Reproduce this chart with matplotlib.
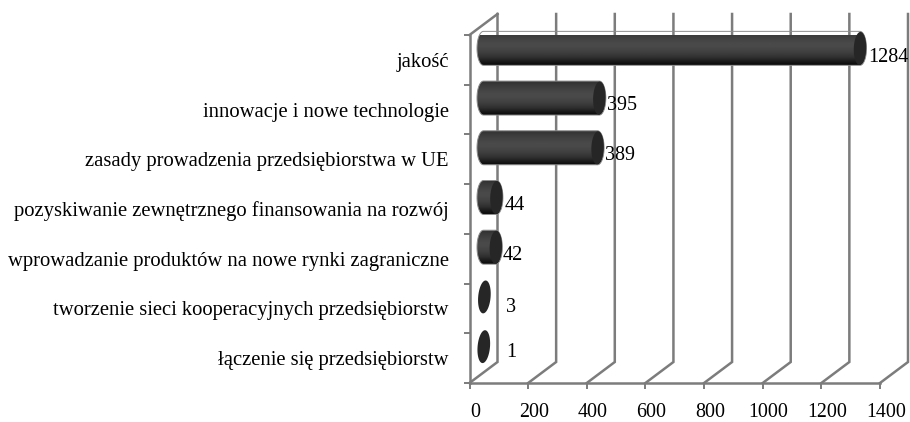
#Horizontal cylinder bar chart with a fake 3D frame
import numpy as np
import matplotlib
matplotlib.use('Agg')
import matplotlib.pyplot as plt
from matplotlib.path import Path
from matplotlib.patches import PathPatch, Polygon
from matplotlib.transforms import ScaledTranslation

plt.rcParams['font.family'] = ['Liberation Serif', 'DejaVu Serif']

#Input data
categories = ['jakość',
              'innowacje i nowe technologie',
              'zasady prowadzenia przedsiębiorstwa w UE',
              'pozyskiwanie zewnętrznego finansowania na rozwój',
              'wprowadzanie produktów na nowe rynki zagraniczne',
              'tworzenie sieci kooperacyjnych przedsiębiorstw',
              'łączenie się przedsiębiorstw']
values = [1284, 395, 389, 44, 42, 3, 1]
xticks = [0, 200, 400, 600, 800, 1000, 1200, 1400]

W, H = 910, 422
fig = plt.figure(figsize=(W/100, H/100), dpi=100)
ax = fig.add_axes([469.5/W, (H-383)/H, 410.5/W, 348/H])
ax.set_xlim(0, 1400)
ax.set_ylim(6.5, -0.5)
ax.patch.set_visible(False)

grid_col = '#7c7c7c'
px_x = 1400/410.5              #data units per pixel
px_y = 7/348
dep_x = 28*px_x                #depth of the frame
dep_y = 21*px_y

#Frame
for x in xticks:
    ax.plot([x, x+dep_x, x+dep_x], [6.5, 6.5-dep_y, -0.5-dep_y], color=grid_col,
            lw=1.8, clip_on=False, zorder=1, solid_joinstyle='miter')
ax.plot([0, dep_x], [-0.5, -0.5-dep_y], color=grid_col, lw=1.8, clip_on=False, zorder=1)

#Cylinders
def cyl(ax, val, y):
    cx0 = dep_x/2
    cx1 = val + dep_x/2
    cy = y - dep_y/2 - 1*px_y
    rx = 6.5*px_x
    ry = 17*px_y
    t = np.linspace(np.pi/2, 3*np.pi/2, 30)
    left = np.c_[cx0 + rx*np.cos(t), cy + ry*np.sin(t)]
    right = np.c_[cx1 + rx*np.cos(t+np.pi), cy + ry*np.sin(t+np.pi)]
    pts = np.vstack([left, right, left[:1]])
    if val > 20:
        clip = PathPatch(Path(pts), fc='none', ec='none', transform=ax.transData)
        ax.add_patch(clip)
        shade = np.array([.20, .23, .25, .27, .29, .29, .27, .25, .22, .18, .12, .06]).reshape(-1, 1)
        im = ax.imshow(shade, cmap='gray', vmin=0, vmax=1, aspect='auto', zorder=3,
                       extent=[cx0-rx, cx1+rx, cy+ry, cy-ry], interpolation='bilinear')
        im.set_clip_path(clip)
        ax.add_patch(PathPatch(Path(pts), fc='none', ec='#8c8c8c', lw=0.7, zorder=4, clip_on=False))
    #end cap, only the small ones lean visibly to the right
    a = np.linspace(0, 2*np.pi, 60)
    ex = 6.2*np.cos(a)
    ey = 16.5*np.sin(a)
    tilt = np.radians(5 if val < 20 else 2)
    cap_x = cx1 + (ex*np.cos(tilt) - ey*np.sin(tilt))*px_x
    cap_y = cy + (ex*np.sin(tilt) + ey*np.cos(tilt))*px_y
    ax.add_patch(Polygon(np.c_[cap_x, cap_y], fc='#262626', ec='none', zorder=5, clip_on=False))

for i, v in enumerate(values):
    cyl(ax, v, i)
ax.set_xlim(0, 1400)
ax.set_ylim(6.5, -0.5)

#Value labels
lab_y = [57, 105, 155, 206, 255, 308, 353]
lab_x = [868, 607, 605, 505, 503, 506, 506]
lab_size = [14.5, 14.5, 14.5, 14.5, 14.5, 14.5, 14.5]
for i, v in enumerate(values):
    ax.annotate(str(v), (v, i), xycoords='data', textcoords='offset pixels',
                xytext=(lab_x[i]-469.5-v/px_x, (35+(i+.5)*348/7)-lab_y[i]),
                ha='left', va='center', fontsize=lab_size[i], color='black', annotation_clip=False, zorder=6)

#Axes
for s in ['top', 'right']:
    ax.spines[s].set_visible(False)
for s in ['left', 'bottom']:
    ax.spines[s].set_color(grid_col)
    ax.spines[s].set_linewidth(1.8)
ax.set_xticks(xticks)
ax.set_yticks(np.arange(-0.5, 7))
ax.set_yticklabels([])
ax.set_yticks(np.arange(7), labels=categories, minor=True)
ax.tick_params(axis='y', which='major', length=4.5, width=1.4, color=grid_col)
ax.tick_params(axis='y', which='minor', length=0, pad=15, labelsize=14.9)
ax.tick_params(axis='x', length=4.5, width=1.4, color=grid_col, pad=10, labelsize=14.4)
shift = ScaledTranslation(6/100, 0, fig.dpi_scale_trans)
for t in ax.get_xticklabels():
    t.set_transform(t.get_transform() + shift)

fig.savefig('out.png', dpi=100)
